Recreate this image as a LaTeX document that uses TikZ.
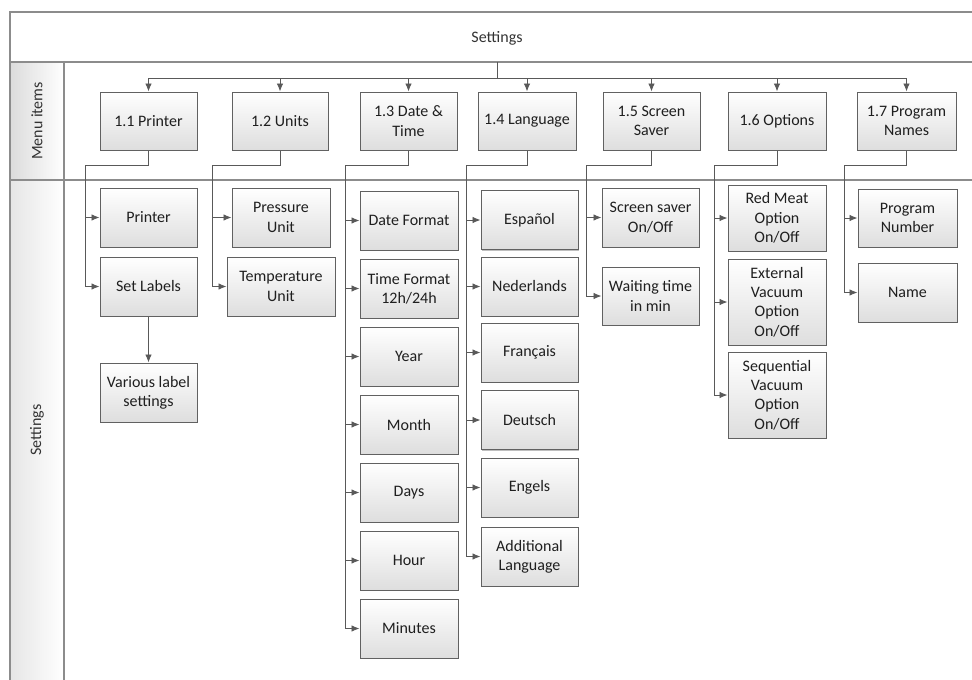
\documentclass[tikz,border=0pt]{standalone}
\usepackage{fontspec}
\setmainfont{Carlito}
\usetikzlibrary{arrows.meta,shadows}
\begin{document}
\begin{tikzpicture}[x=1pt,y=-1pt,
  box/.style={draw=black!62, line width=1pt, top color=white, bottom color=black!13,
    align=center, inner sep=0pt, font=\fontsize{16}{19.3}\selectfont, text=black!88,
    drop shadow={shadow xshift=1.2pt, shadow yshift=-1.2pt, fill=black, opacity=0.25}},
  lbl/.style={font=\fontsize{16}{19.3}\selectfont, text=black!80, inner sep=0pt},
  conn/.style={draw=black!65, line width=0.9pt},
  arr/.style={conn, -{Latex[length=8pt,width=6.5pt]}},
  frame/.style={draw=black!45, line width=1.2pt}]
\useasboundingbox (0,0) rectangle (972,680);
\fill[white] (0,0) rectangle (972,680);
% swimlane frame
\fill[left color=black!14, right color=white] (10,62) rectangle (64,180);
\fill[left color=black!10, right color=white] (10,180) rectangle (64,680);
\draw[frame] (10,680) -- (10,12) -- (972,12);
\draw[frame] (10,62) -- (972,62);
\draw[frame] (10,180) -- (972,180);
\draw[frame] (64,62) -- (64,680);
\node[lbl] (hdr) at (497,38) {Settings};
\node[lbl, rotate=90] (lmenu) at (37,121) {Menu items};
\node[lbl, rotate=90] (lset) at (37,430) {Settings};
% menu items
\node[box, minimum width=97pt, minimum height=58pt] (m1) at (148.5,121) {1.1 Printer};
\node[box, minimum width=96pt, minimum height=58pt] (m2) at (280,121) {1.2 Units};
\node[box, minimum width=97pt, minimum height=58pt] (m3) at (408.5,121) {1.3 Date \&\\Time};
\node[box, minimum width=98pt, minimum height=58pt] (m4) at (527,121) {1.4 Language};
\node[box, minimum width=97pt, minimum height=58pt] (m5) at (651.5,121) {1.5 Screen\\Saver};
\node[box, minimum width=98pt, minimum height=58pt] (m6) at (777,121) {1.6 Options};
\node[box, minimum width=99pt, minimum height=58pt] (m7) at (906.5,121) {1.7 Program\\Names};
% settings: printer
\node[box, minimum width=97pt, minimum height=59pt] (s11) at (148.5,217.5) {Printer};
\node[box, minimum width=97pt, minimum height=59pt] (s12) at (148.5,286.5) {Set Labels};
\node[box, minimum width=97pt, minimum height=59pt] (s13) at (148.5,392.5) {Various label\\settings};
% units
\node[box, minimum width=98pt, minimum height=59pt] (s21) at (281,217.5) {Pressure\\Unit};
\node[box, minimum width=108pt, minimum height=59pt] (s22) at (281,286.5) {Temperature\\Unit};
% date & time
\node[box, minimum width=98pt, minimum height=59pt] (s31) at (409,220.5) {Date Format};
\node[box, minimum width=98pt, minimum height=59pt] (s32) at (409,288.5) {Time Format\\12h/24h};
\node[box, minimum width=98pt, minimum height=59pt] (s33) at (409,356.5) {Year};
\node[box, minimum width=98pt, minimum height=59pt] (s34) at (409,424.5) {Month};
\node[box, minimum width=98pt, minimum height=59pt] (s35) at (409,492.5) {Days};
\node[box, minimum width=98pt, minimum height=59pt] (s36) at (409,560.5) {Hour};
\node[box, minimum width=98pt, minimum height=59pt] (s37) at (409,628.5) {Minutes};
% language
\node[box, minimum width=97pt, minimum height=59pt] (s41) at (529.5,220) {Español};
\node[box, minimum width=97pt, minimum height=59pt] (s42) at (529.5,286.5) {Nederlands};
\node[box, minimum width=97pt, minimum height=59pt] (s43) at (529.5,352.5) {Français};
\node[box, minimum width=97pt, minimum height=59pt] (s44) at (529.5,420) {Deutsch};
\node[box, minimum width=97pt, minimum height=59pt] (s45) at (529.5,487.5) {Engels};
\node[box, minimum width=97pt, minimum height=59pt] (s46) at (529.5,556.5) {Additional\\Language};
% screen saver
\node[box, minimum width=97pt, minimum height=59pt] (s51) at (650.5,217.5) {Screen saver\\On/Off};
\node[box, minimum width=97pt, minimum height=58pt] (s52) at (650.5,296) {Waiting time\\in min};
% options
\node[box, minimum width=98pt, minimum height=66pt] (s61) at (777,218) {Red Meat\\Option\\On/Off};
\node[box, minimum width=98pt, minimum height=86pt] (s62) at (777,302) {External\\Vacuum\\Option\\On/Off};
\node[box, minimum width=98pt, minimum height=86pt] (s63) at (777,395) {Sequential\\Vacuum\\Option\\On/Off};
% program names
\node[box, minimum width=99pt, minimum height=58pt] (s71) at (907.5,218) {Program\\Number};
\node[box, minimum width=99pt, minimum height=59pt] (s72) at (907.5,292.5) {Name};
% top distribution
\coordinate (hs) at (497,62);
\coordinate (hb) at (497,78);
\draw[conn] (hs) -- (hb);
\draw[conn] (m1.north |- hb) -- (m7.north |- hb);
\foreach \m in {m1,m2,m3,m4,m5,m6,m7}
  \draw[arr] (\m.north |- hb) -- (\m.north);
% branch points
\coordinate (b1) at (85,165);
\coordinate (b2) at (212,165);
\coordinate (b3) at (345,165);
\coordinate (b4) at (466,165);
\coordinate (b5) at (586,165);
\coordinate (b6) at (714,165);
\coordinate (b7) at (844,165);
\draw[conn] (m1.south) |- (b1) -- (b1 |- s12.west);
\draw[conn] (m2.south) |- (b2) -- (b2 |- s22.west);
\draw[conn] (m3.south) |- (b3) -- (b3 |- s37.west);
\draw[conn] (m4.south) |- (b4) -- (b4 |- s46.west);
\draw[conn] (m5.south) |- (b5) -- (b5 |- s52.west);
\draw[conn] (m6.south) |- (b6) -- (b6 |- s63.west);
\draw[conn] (m7.south) |- (b7) -- (b7 |- s72.west);
\foreach \b/\n in {b1/s11,b1/s12,b2/s21,b2/s22,
  b3/s31,b3/s32,b3/s33,b3/s34,b3/s35,b3/s36,b3/s37,
  b4/s41,b4/s42,b4/s43,b4/s44,b4/s45,b4/s46,
  b5/s51,b5/s52,b6/s61,b6/s62,b6/s63,b7/s71,b7/s72}
  \draw[arr] (\b |- \n.west) -- (\n.west);
\draw[arr] (s12.south) -- (s13.north);
\end{tikzpicture}
\end{document}
